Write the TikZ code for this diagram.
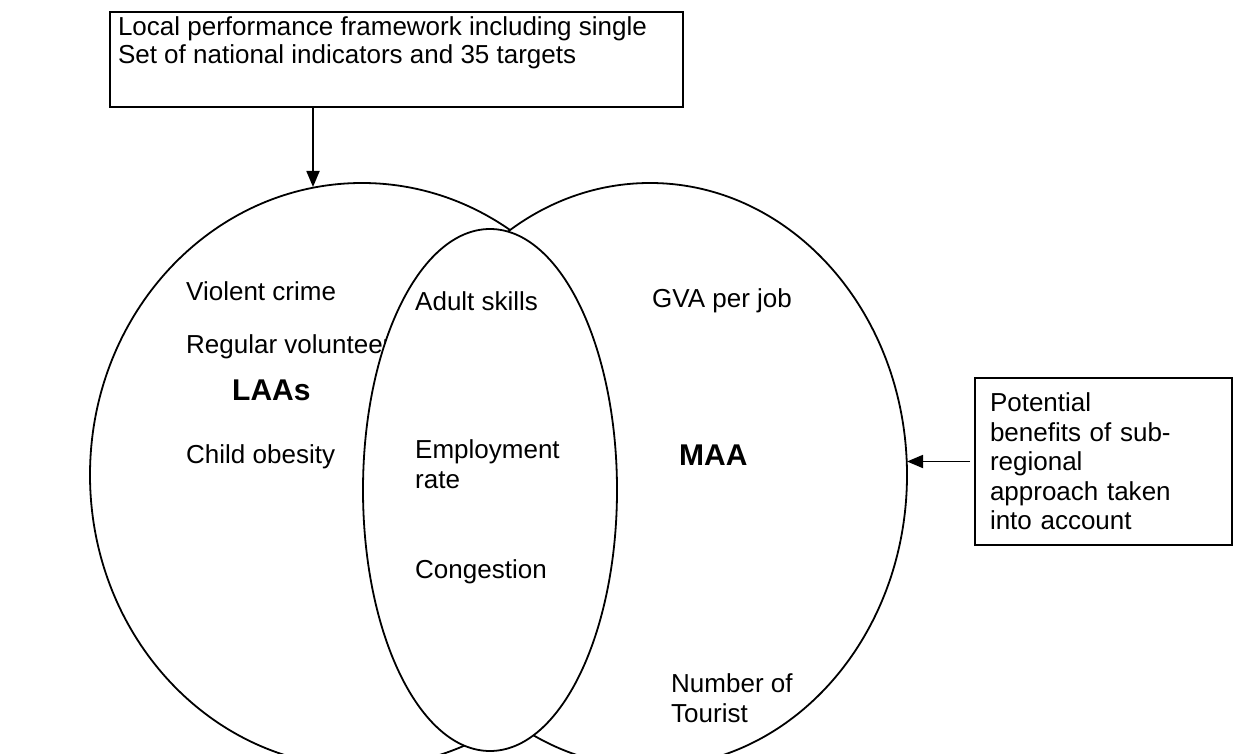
\documentclass[tikz,border=0pt]{standalone}
\usepackage{fontspec}
\setmainfont{Liberation Sans}
\usetikzlibrary{shapes.geometric,arrows.meta}
\begin{document}
\begin{tikzpicture}[x=1pt,y=-1pt,
  outline/.style={draw=black,line width=1.8pt,fill=white},
  area/.style={outline,ellipse,inner sep=0pt,outer sep=0pt},
  lbl/.style={anchor=west,inner sep=0pt,align=left,font=\fontsize{26}{29.5}\selectfont},
  big/.style={anchor=west,inner sep=0pt,font=\fontsize{30}{34}\selectfont\bfseries},
  arr/.style={line width=1.8pt,-{Triangle[length=16pt,width=13pt]}},
  textbox/.style={draw=black,line width=1.8pt,fill=white,outer sep=0pt,font=\fontsize{26}{29.5}\selectfont}]
\useasboundingbox (0,0) rectangle (1247,754);
% left circle (LAAs)
\node[area,minimum width=544pt,minimum height=584pt] (lc) at (362,475) {};
\node[lbl] (vc) at (186,291) {Violent crime};
\node[lbl] (rv) at (186,347) {Regular volunteer};
\node[big] (laas) at (232,390) {LAAs};
\node[lbl] (co) at (186,457) {Child obesity};
% right circle (MAA)
\node[area,minimum width=514pt,minimum height=584pt] (rc) at (650,475) {};
% middle overlap ellipse
\node[area,minimum width=254pt,minimum height=522pt] (mid) at (490,490) {};
\node[lbl] (as) at (415,301) {Adult skills};
\node[lbl] (er) at (415,464) {Employment\\rate};
\node[lbl] (cg) at (415,572) {Congestion};
\node[lbl] (gva) at (652,301) {GVA per job};
\node[big] (maa) at (679,455) {MAA};
\node[lbl] (nt) at (671,698) {Number of\\Tourist};
% top box
\node[textbox,anchor=north west,inner xsep=8pt,inner ysep=0pt] (top) at (110,12)
  {\parbox[c][95pt][t]{557pt}{\vspace{5pt}Local performance framework including single\\[-2pt]Set of national indicators and 35 targets}};
\coordinate (tgt) at (313,187);
\draw[arr] (tgt |- top.south) -- (tgt);
% right box
\node[textbox,anchor=north west,inner xsep=15pt,minimum width=257pt,minimum height=167pt,
  text width=227pt,align=left] (rb) at (975,378)
  {Potential\\benefits of sub-\\regional\\approach taken\\into account};
\draw[arr,shorten <=5pt] (rb.west) -- (rb.west -| rc.east);
\end{tikzpicture}
\end{document}
